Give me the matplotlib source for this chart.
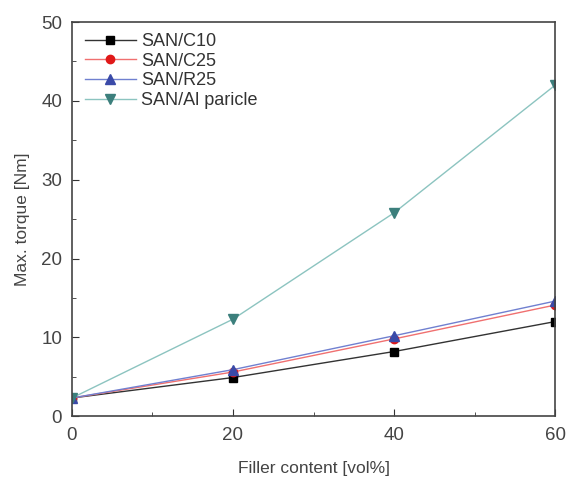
import matplotlib
matplotlib.use("Agg")
import matplotlib.pyplot as plt
from matplotlib.ticker import MultipleLocator

plt.rcParams['font.family'] = ['Liberation Sans', 'DejaVu Sans']

filler = [0, 20, 40, 60]
san_c10 = [2.3, 4.9, 8.2, 12.0]
san_c25 = [2.3, 5.6, 9.8, 14.1]
san_r25 = [2.3, 5.9, 10.2, 14.6]
san_al = [2.3, 12.3, 25.8, 42.0]

fig = plt.figure(figsize=(5.7, 4.8), dpi=100)
ax = fig.add_axes([0.126, 0.133, 0.848, 0.821])

ax.plot(filler, san_c10, color='#333333', lw=1, marker='s', ms=5.5, mfc='black', mec='black', label='SAN/C10')
ax.plot(filler, san_c25, color='#f07070', lw=1, marker='o', ms=6, mfc='#e01818', mec='#e01818', label='SAN/C25')
ax.plot(filler, san_r25, color='#7080d0', lw=1, marker='^', ms=6.5, mfc='#3a4aa8', mec='#3a4aa8', label='SAN/R25')
ax.plot(filler, san_al, color='#8cc4c0', lw=1, marker='v', ms=6.5, mfc='#3c7f7c', mec='#3c7f7c', label='SAN/Al paricle')

ax.set_xlim(0, 60)
ax.set_ylim(0, 50)
ax.xaxis.set_major_locator(MultipleLocator(20))
ax.xaxis.set_minor_locator(MultipleLocator(10))
ax.yaxis.set_major_locator(MultipleLocator(10))
ax.yaxis.set_minor_locator(MultipleLocator(5))
ax.tick_params(which='both', direction='in', colors='#333333', labelcolor='#444444', labelsize=13.5)
ax.tick_params(which='major', length=5)
ax.tick_params(which='minor', length=3)
ax.tick_params(axis='x', pad=8)
ax.tick_params(axis='y', pad=7)
for s in ax.spines.values():
    s.set_color('#444444')
    s.set_linewidth(1.2)

ax.set_xlabel('Filler content [vol%]', fontsize=12.5, color='#444444', labelpad=12)
ax.set_ylabel('Max. torque [Nm]', fontsize=12.5, color='#444444', labelpad=8)

leg = ax.legend(loc='upper left', frameon=False, fontsize=13, handlelength=2.8,
                labelspacing=0.15, borderaxespad=0.2, handletextpad=0.3,
                bbox_to_anchor=(0.005, 1.0))
for t in leg.get_texts():
    t.set_color('#333333')

fig.savefig('out.png', dpi=100)
